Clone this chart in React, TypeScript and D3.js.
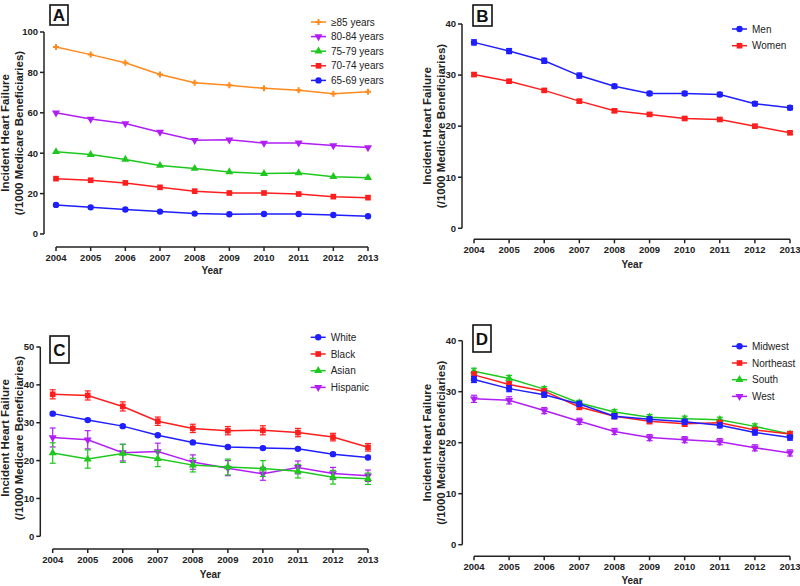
import React from "react";
import * as d3 from "d3";

const years = [2004, 2005, 2006, 2007, 2008, 2009, 2010, 2011, 2012, 2013];

// Panel A – age groups
const ageNames = ["≥85 years", "80-84 years", "75-79 years", "70-74 years", "65-69 years"];
const age85 = [92.6, 88.8, 84.8, 79.0, 74.9, 73.6, 72.1, 71.2, 69.4, 70.4];
const age80 = [60.0, 56.9, 54.7, 50.4, 46.4, 46.6, 45.0, 45.1, 43.8, 42.8];
const age75 = [40.7, 39.3, 36.9, 33.9, 32.4, 30.7, 29.9, 30.2, 28.4, 27.9];
const age70 = [27.4, 26.6, 25.3, 23.1, 21.2, 20.3, 20.3, 19.8, 18.5, 18.0];
const age65 = [14.4, 13.2, 12.1, 11.1, 10.1, 9.8, 9.9, 9.9, 9.4, 8.8];

// Panel B – sex
const sexNames = ["Men", "Women"];
const men = [36.4, 34.7, 32.8, 29.9, 27.8, 26.4, 26.4, 26.2, 24.4, 23.6];
const menErr = [0.5, 0.5, 0.5, 0.5, 0.4, 0.4, 0.4, 0.4, 0.4, 0.4];
const women = [30.1, 28.8, 27.0, 24.9, 23.0, 22.3, 21.5, 21.3, 20.0, 18.7];
const womenErr = [0.3, 0.3, 0.3, 0.3, 0.3, 0.3, 0.3, 0.3, 0.3, 0.3];

// Panel C – race
const raceNames = ["White", "Black", "Asian", "Hispanic"];
const white = [32.4, 30.7, 29.1, 26.7, 24.8, 23.6, 23.3, 23.1, 21.7, 20.8];
const whiteErr = [0.3, 0.3, 0.3, 0.3, 0.3, 0.3, 0.3, 0.3, 0.3, 0.3];
const black = [37.5, 37.2, 34.3, 30.4, 28.5, 27.9, 28.0, 27.4, 26.2, 23.5];
const blackErr = [1.2, 1.2, 1.2, 1.1, 1.1, 1.1, 1.2, 1.1, 1.0, 1.0];
const asian = [22.0, 20.4, 21.9, 20.5, 18.8, 18.3, 17.9, 17.2, 15.6, 15.2];
const asianErr = [2.7, 2.4, 2.4, 2.1, 1.8, 2.1, 2.1, 1.8, 1.8, 1.5];
const hispanic = [26.1, 25.5, 22.1, 22.4, 19.6, 18.0, 16.5, 18.2, 16.6, 16.0];
const hispanicErr = [2.5, 2.4, 2.2, 2.2, 1.9, 2.0, 1.7, 1.7, 1.6, 1.5];

// Panel D – region
const regionNames = ["Midwest", "Northeast", "South", "West"];
const midwest = [32.4, 30.6, 29.4, 27.6, 25.2, 24.6, 24.1, 23.4, 22.0, 21.0];
const northeast = [33.3, 31.4, 30.1, 27.0, 25.2, 24.2, 23.7, 23.9, 22.5, 21.7];
const south = [34.0, 32.6, 30.5, 27.8, 26.0, 25.0, 24.7, 24.5, 23.2, 21.7];
const west = [28.6, 28.3, 26.3, 24.2, 22.2, 21.0, 20.6, 20.2, 19.0, 18.0];
const regionErr = [0.6, 0.6, 0.5, 0.5, 0.5, 0.5, 0.5, 0.5, 0.5, 0.5];
const westErr = [0.7, 0.7, 0.6, 0.6, 0.6, 0.6, 0.6, 0.6, 0.6, 0.6];

const BLUE = "#1e1eff";
const RED = "#ff1e1e";
const GREEN = "#1ec81e";
const PURPLE = "#b01ef5";
const ORANGE = "#ff8a1e";
const AXIS = "#222";
const FONT = "'Liberation Sans', Arial, Helvetica, sans-serif";

type Marker = "circle" | "square" | "up" | "down" | "plus";
type Series = { name: string; values: number[]; err?: number[]; color: string; marker: Marker };

function markerPath(m: Marker): string {
  const gen = d3.symbol();
  if (m === "circle") return gen.type(d3.symbolCircle).size(32)() as string;
  if (m === "square") return gen.type(d3.symbolSquare).size(32)() as string;
  if (m === "up") return gen.type(d3.symbolTriangle).size(28)() as string;
  if (m === "down") return gen.type(d3.symbolTriangle).size(28)() as string;
  return gen.type(d3.symbolCross).size(20)() as string;
}

function MarkerShape({ m, color, x, y }: { m: Marker; color: string; x: number; y: number }) {
  const rot = m === "down" ? " rotate(180)" : "";
  return <path d={markerPath(m)} transform={`translate(${x},${y})${rot}`} fill={color} />;
}

type Layout = {
  letter: string;
  axisX: number;
  yTop: number;
  yBottom: number;
  yMax: number;
  yStep: number;
  x0: number;
  x1: number;
  xAxisY: number;
  box: [number, number, number, number];
  legX: number;
  legY: number;
  legDy: number;
  ylab1X: number;
  ylabCY: number;
  yearY: number;
};

function Panel({ L, series }: { L: Layout; series: Series[] }) {
  const x = d3.scaleLinear().domain([years[0], years[years.length - 1]]).range([L.x0, L.x1]);
  const y = d3.scaleLinear().domain([0, L.yMax]).range([L.yBottom, L.yTop]);
  const yTicks = d3.range(0, L.yMax + 0.001, L.yStep);
  const line = d3
    .line<number>()
    .x((_, i) => x(years[i]))
    .y((v) => y(v));
  const drawOrder = [...series].reverse();
  return (
    <g fontFamily={FONT}>
      {/* label box */}
      <rect x={L.box[0]} y={L.box[1]} width={L.box[2]} height={L.box[3]} fill="white" stroke="#111" strokeWidth={1.6} />
      <text
        x={L.box[0] + L.box[2] / 2}
        y={L.box[1] + L.box[3] / 2 + 6}
        textAnchor="middle"
        fontSize={17}
        fontWeight="bold"
        fill="#111"
      >
        {L.letter}
      </text>
      {/* y axis */}
      <line x1={L.axisX} x2={L.axisX} y1={y(L.yMax)} y2={y(0)} stroke={AXIS} strokeWidth={1.5} />
      {yTicks.map((t) => (
        <g key={t}>
          <line x1={L.axisX - 4} x2={L.axisX} y1={y(t)} y2={y(t)} stroke={AXIS} strokeWidth={1.5} />
          <text x={L.axisX - 6} y={y(t) + 3.3} textAnchor="end" fontSize={9.5} fontWeight="bold" fill="#222">
            {t}
          </text>
        </g>
      ))}
      {/* x axis */}
      <line x1={x(years[0])} x2={x(years[years.length - 1])} y1={L.xAxisY} y2={L.xAxisY} stroke={AXIS} strokeWidth={1.5} />
      {years.map((yr) => (
        <g key={yr}>
          <line x1={x(yr)} x2={x(yr)} y1={L.xAxisY} y2={L.xAxisY + 4} stroke={AXIS} strokeWidth={1.5} />
          <text x={x(yr)} y={L.xAxisY + 14} textAnchor="middle" fontSize={9.5} fontWeight="bold" fill="#222">
            {String(yr)}
          </text>
        </g>
      ))}
      <text x={(L.x0 + L.x1) / 2} y={L.yearY} textAnchor="middle" fontSize={10} fontWeight="bold" fill="#222">
        Year
      </text>
      {/* y label */}
      <text
        transform={`translate(${L.ylab1X},${L.ylabCY}) rotate(-90)`}
        textAnchor="middle"
        fontSize={11.5}
        fontWeight="bold"
        fill="#222"
      >
        <tspan x={0} dy={0}>Incident Heart Failure</tspan>
        <tspan x={0} dy={14}>(/1000 Medicare Beneficiaries)</tspan>
      </text>
      {/* series */}
      {drawOrder.map((s) => (
        <g key={s.name}>
          <path d={line(s.values) as string} fill="none" stroke={s.color} strokeWidth={1.5} />
          {s.err &&
            s.values.map((v, i) => {
              const e = s.err![i];
              const cx = x(years[i]);
              return (
                <g key={i} stroke={s.color} strokeWidth={1.2}>
                  <line x1={cx} x2={cx} y1={y(v - e)} y2={y(v + e)} />
                  <line x1={cx - 3} x2={cx + 3} y1={y(v - e)} y2={y(v - e)} />
                  <line x1={cx - 3} x2={cx + 3} y1={y(v + e)} y2={y(v + e)} />
                </g>
              );
            })}
          {s.values.map((v, i) => (
            <MarkerShape key={i} m={s.marker} color={s.color} x={x(years[i])} y={y(v)} />
          ))}
        </g>
      ))}
      {/* legend */}
      {series.map((s, i) => {
        const ly = L.legY + i * L.legDy;
        return (
          <g key={s.name}>
            <line x1={L.legX} x2={L.legX + 15} y1={ly} y2={ly} stroke={s.color} strokeWidth={1.5} />
            <MarkerShape m={s.marker} color={s.color} x={L.legX + 7.5} y={ly} />
            <text x={L.legX + 20} y={ly + 3.6} fontSize={10} fill="#222">
              {s.name}
            </text>
          </g>
        );
      })}
    </g>
  );
}

const layoutA: Layout = {
  letter: "A", axisX: 44, yTop: 32, yBottom: 234, yMax: 100, yStep: 20, x0: 56, x1: 368, xAxisY: 247,
  box: [50, 5, 18, 20], legX: 311, legY: 22, legDy: 14.6, ylab1X: 9, ylabCY: 133, yearY: 274,
};
const layoutB: Layout = {
  letter: "B", axisX: 462, yTop: 24, yBottom: 228.3, yMax: 40, yStep: 10, x0: 474, x1: 790, xAxisY: 239.3,
  box: [473, 5, 19, 21], legX: 732, legY: 29, legDy: 16.7, ylab1X: 431, ylabCY: 126, yearY: 268,
};
const layoutC: Layout = {
  letter: "C", axisX: 40.3, yTop: 347, yBottom: 536.3, yMax: 50, yStep: 10, x0: 52.7, x1: 368, xAxisY: 549,
  box: [50, 336, 19, 27], legX: 310.7, legY: 337.3, legDy: 16.7, ylab1X: 9, ylabCY: 438, yearY: 578,
};
const layoutD: Layout = {
  letter: "D", axisX: 462.3, yTop: 340.7, yBottom: 544.7, yMax: 40, yStep: 10, x0: 474, x1: 790, xAxisY: 556.3,
  box: [473, 325, 18, 27], legX: 732, legY: 346.3, legDy: 16.7, ylab1X: 431, ylabCY: 442.7, yearY: 584,
};

const seriesA: Series[] = [
  { name: ageNames[0], values: age85, color: ORANGE, marker: "plus" },
  { name: ageNames[1], values: age80, color: PURPLE, marker: "down" },
  { name: ageNames[2], values: age75, color: GREEN, marker: "up" },
  { name: ageNames[3], values: age70, color: RED, marker: "square" },
  { name: ageNames[4], values: age65, color: BLUE, marker: "circle" },
];
const seriesB: Series[] = [
  { name: sexNames[0], values: men, err: menErr, color: BLUE, marker: "circle" },
  { name: sexNames[1], values: women, err: womenErr, color: RED, marker: "square" },
];
const seriesC: Series[] = [
  { name: raceNames[0], values: white, err: whiteErr, color: BLUE, marker: "circle" },
  { name: raceNames[1], values: black, err: blackErr, color: RED, marker: "square" },
  { name: raceNames[2], values: asian, err: asianErr, color: GREEN, marker: "up" },
  { name: raceNames[3], values: hispanic, err: hispanicErr, color: PURPLE, marker: "down" },
];
const seriesD: Series[] = [
  { name: regionNames[0], values: midwest, err: regionErr, color: BLUE, marker: "circle" },
  { name: regionNames[1], values: northeast, err: regionErr, color: RED, marker: "square" },
  { name: regionNames[2], values: south, err: regionErr, color: GREEN, marker: "up" },
  { name: regionNames[3], values: west, err: westErr, color: PURPLE, marker: "down" },
];

export default function App() {
  return (
    <svg
      width={800}
      height={586}
      viewBox="0 0 800 586"
      style={{ position: "absolute", left: 0, top: 0, background: "white", display: "block" }}
    >
      <rect x={0} y={0} width={800} height={586} fill="white" />
      <Panel L={layoutA} series={seriesA} />
      <Panel L={layoutB} series={seriesB} />
      <Panel L={layoutC} series={seriesC} />
      <Panel L={layoutD} series={seriesD} />
    </svg>
  );
}
